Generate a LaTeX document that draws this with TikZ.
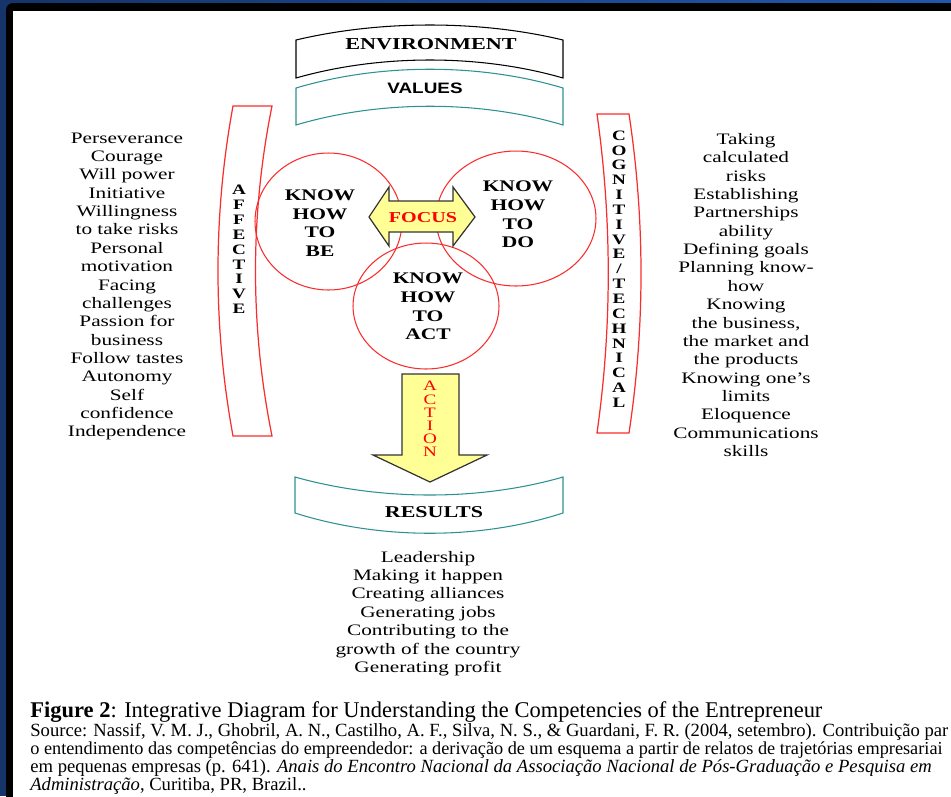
\documentclass[tikz,border=0pt]{standalone}
\usepackage{fontspec}
\setmainfont{Liberation Serif}
\newfontfamily\diagfont[FakeStretch=1.33]{Liberation Serif}
\newfontfamily\valfont[FakeStretch=1.25]{Liberation Sans}
\newfontfamily\capfont{Liberation Serif}
\usetikzlibrary{shapes.geometric}
\definecolor{navyband}{RGB}{20,52,106}
\definecolor{topblue}{RGB}{33,88,172}
\definecolor{circred}{RGB}{250,45,45}
\definecolor{tealline}{RGB}{45,145,145}
\definecolor{arrowyellow}{RGB}{255,255,150}
\begin{document}
\begin{tikzpicture}[x=0.02cm,y=-0.02cm]
            %
            % `banner' is used for the curved ribbons (environment, values, results).
            % `bracket' is used for the two red side brackets.
            % `knowcirc' is used for the three circles, `knowtext' for their words.
            % `listtext' is used for the lists of competencies.
            % `upright' is used for the letters stacked on top of each other.
            % `bigarrow' is used for the two yellow arrows.
            \tikzstyle{banner} = [draw=black,line width=0.6pt]
            \tikzstyle{bannertext} = [inner sep=0pt,font=\diagfont\bfseries\fontsize{9.5}{12}\selectfont]
            \tikzstyle{bracket} = [draw=circred,line width=0.7pt]
            \tikzstyle{knowcirc} = [draw=circred,ellipse,line width=0.6pt,inner sep=0pt]
            \tikzstyle{knowtext} = [align=center,inner sep=0pt,font=\diagfont\bfseries\fontsize{9.2}{10.6}\selectfont]
            \tikzstyle{listtext} = [align=center,inner sep=0pt,font=\diagfont\fontsize{9.1}{10.45}\selectfont]
            \tikzstyle{upright} = [align=center,inner sep=0pt,font=\diagfont\bfseries\fontsize{8.2}{8.45}\selectfont]
            \tikzstyle{redword} = [text=red,inner sep=0pt]
            \tikzstyle{bigarrow} = [draw=black!80,fill=arrowyellow,line width=0.7pt]
            \tikzstyle{caption} = [anchor=base west,inner sep=0pt,font=\capfont\fontsize{10.6}{12}\selectfont]
            %
            % Frame
            \useasboundingbox (0,0) rectangle (951,796);
            \fill[navyband] (0,0) rectangle (951,796);
            \shade[left color=navyband,right color=topblue] (0,0) rectangle (951,4);
            \fill[black,rounded corners=4] (6,3) rectangle (980,820);
            \fill[white] (13,11) rectangle (975,815);
            %
            % Banners
            \draw[banner] (296,40) .. controls (380,20) and (480,20) .. (563,40)
                -- (563,78) .. controls (480,54) and (380,54) .. (296,78) -- cycle;
            \node[bannertext] (env) at (431,44) {ENVIRONMENT};
            \draw[banner,draw=tealline] (296,88) .. controls (380,63) and (480,63) .. (563,88)
                -- (563,125) .. controls (480,100) and (380,100) .. (296,125) -- cycle;
            \node[inner sep=0pt,font=\valfont\bfseries\fontsize{8.6}{10}\selectfont] (values) at (425,88) {VALUES};
            \draw[banner,draw=tealline] (295,477) .. controls (380,501) and (480,501) .. (563,477)
                -- (563,513) .. controls (480,540) and (380,540) .. (295,513) -- cycle;
            \node[bannertext,font=\diagfont\bfseries\fontsize{9.4}{10}\selectfont] (results) at (434,512) {RESULTS};
            %
            % Side brackets
            \draw[bracket] (233,106) -- (272,106) .. controls (250,215) and (250,327) .. (272,436)
                -- (233,436) .. controls (213,327) and (213,215) .. (233,106) -- cycle;
            \node[upright] (affective) at (239,249.5) {A\\F\\F\\E\\C\\T\\I\\V\\E};
            \draw[bracket] (597,114) -- (629,114) .. controls (645,220) and (645,327) .. (629,433)
                -- (597,433) .. controls (612,327) and (612,220) .. (597,114) -- cycle;
            \node[upright] (cognitive) at (619,269) {C\\O\\G\\N\\I\\T\\I\\V\\E\\/\\T\\E\\C\\H\\N\\I\\C\\A\\L};
            %
            % Circles
            \node[knowcirc,minimum width=2.94cm,minimum height=2.74cm] (be) at (328.5,221.5) {};
            \node[knowcirc,minimum width=3.2cm,minimum height=2.7cm] (do) at (516,218.5) {};
            \node[knowcirc,minimum width=2.92cm,minimum height=2.52cm] (act) at (426,306) {};
            \node[knowtext] (betext) at (320,223) {KNOW\\HOW\\TO\\BE};
            \node[knowtext] (dotext) at (518,214.5) {KNOW\\HOW\\TO\\DO};
            \node[knowtext] (acttext) at (428,306.5) {KNOW\\HOW\\TO\\ACT};
            %
            % Focus and action arrows
            \draw[bigarrow] (369,217) -- (389,187) -- (389,201) -- (453,201) -- (453,187) -- (475,217)
                -- (453,246) -- (453,232) -- (389,232) -- (389,246) -- cycle;
            \node[redword,font=\diagfont\bfseries\fontsize{8.6}{10}\selectfont] (focus) at (423,218) {FOCUS};
            \draw[bigarrow] (402,374) -- (459,374) -- (459,455) -- (487,455) -- (430,482)
                -- (373,455) -- (402,455) -- cycle;
            \node[upright,redword,font=\diagfont\fontsize{8.2}{7.5}\selectfont] (action) at (430,419) {A\\C\\T\\I\\O\\N};
            %
            % Lists
            \node[listtext] (affectlist) at (127,286.5) {Perseverance\\Courage\\Will power\\Initiative\\Willingness\\to take risks\\Personal\\motivation\\Facing\\challenges\\Passion for\\business\\Follow tastes\\Autonomy\\Self\\confidence\\Independence};
            \node[listtext] (cognitlist) at (746,295) {Taking\\calculated\\risks\\Establishing\\Partnerships\\ability\\Defining goals\\Planning know-\\how\\Knowing\\the business,\\the market and\\the products\\Knowing one’s\\limits\\Eloquence\\Communications\\skills};
            \node[listtext] (resultlist) at (428,613.5) {Leadership\\Making it happen\\Creating alliances\\Generating jobs\\Contributing to the\\growth of the country\\Generating profit};
            %
            % Caption (the right end is cut by the slide, as printed)
            \node[caption,font=\capfont\fontsize{12.8}{14}\selectfont] (figcap) at (30,717) {\textbf{Figure 2}: Integrative Diagram for Understanding the Competencies of the Entrepreneur};
            \node[caption] (src1) at (30,736) {Source: Nassif, V. M. J., Ghobril, A. N., Castilho, A. F., Silva, N. S., \& Guardani, F. R. (2004, setembro). Contribuição par};
            \node[caption,font=\capfont\fontsize{10.4}{12}\selectfont] (src2) at (30,754) {o entendimento das competências do empreendedor: a derivação de um esquema a partir de relatos de trajetórias empresariai};
            \node[caption] (src3) at (30,772.5) {em pequenas empresas (p. 641). \textit{Anais do Encontro Nacional da Associação Nacional de Pós-Graduação e Pesquisa em}};
            \node[caption] (src4) at (30,790) {\textit{Administração}, Curitiba, PR, Brazil..};
        \end{tikzpicture}
\end{document}
